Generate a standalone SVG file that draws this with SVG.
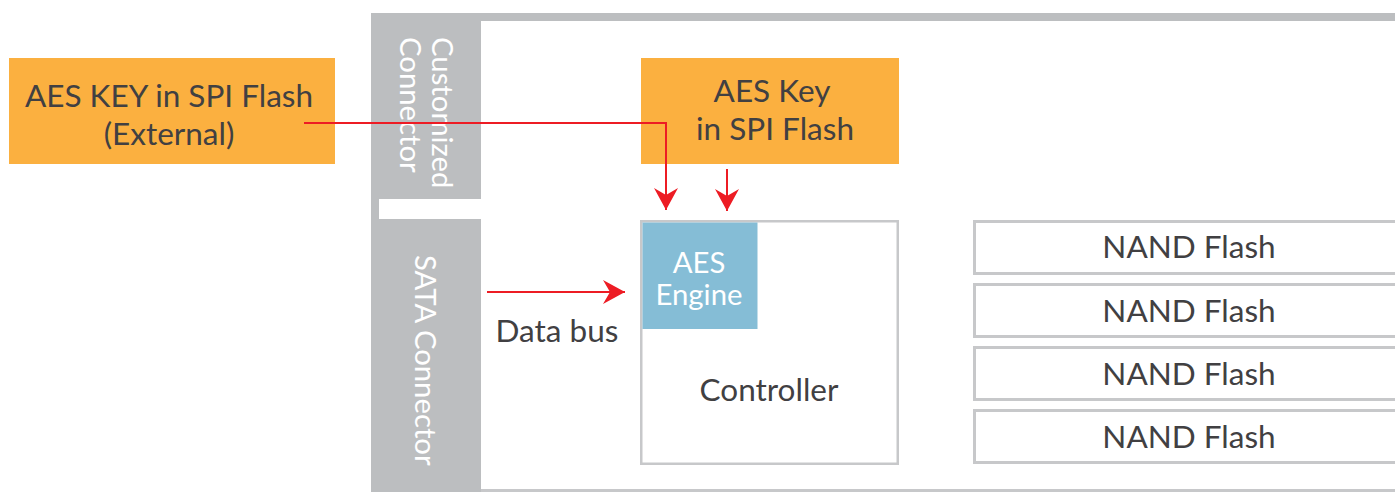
<svg xmlns="http://www.w3.org/2000/svg" width="1395" height="492" viewBox="0 0 1395 492">
  <style>
    .frame { fill: #bcbec0; }
    .key { fill: #fbb040; }
    .box { fill: #ffffff; stroke: #c7c8ca; stroke-width: 3; }
    .dark { font-family: Lato, "Liberation Sans", sans-serif; font-size: 31.5px; fill: #414042; text-anchor: middle; }
    .white { font-family: Lato, "Liberation Sans", sans-serif; font-size: 29.3px; fill: #ffffff; }
    .wire { fill: none; stroke: #ed1c24; stroke-width: 2; }
  </style>
  <defs>
    <marker id="arrow" viewBox="-23 -13 24 26" refX="0" refY="0" markerWidth="24" markerHeight="26" markerUnits="userSpaceOnUse" orient="auto">
      <path d="M0,0 L-22,-12 L-15,0 L-22,12 Z" fill="#ed1c24"/>
    </marker>
  </defs>
  <rect width="1395" height="492" fill="#ffffff"/>

  <g id="enclosure">
    <rect class="frame" x="371" y="13" width="1024" height="8"/>
    <rect class="frame" x="371" y="13" width="8" height="479"/>
    <rect x="371" y="489" width="1024" height="3" fill="#c7c8ca"/>
  </g>

  <g id="customized-connector">
    <rect class="frame" x="371" y="13" width="110" height="186"/>
    <text class="white" transform="translate(432,37) rotate(90)">Customized</text>
    <text class="white" transform="translate(400,37) rotate(90)">Connector</text>
  </g>

  <g id="sata-connector">
    <rect class="frame" x="371" y="219" width="110" height="273"/>
    <text class="white" transform="translate(415,255) rotate(90)">SATA Connector</text>
  </g>

  <g id="external-key">
    <rect class="key" x="9" y="58" width="326" height="106"/>
    <text class="dark" x="169" y="107">AES KEY in SPI Flash</text>
    <text class="dark" x="169" y="145">(External)</text>
  </g>

  <g id="internal-key">
    <rect class="key" x="641" y="58" width="258" height="106"/>
    <text class="dark" x="772" y="102">AES Key</text>
    <text class="dark" x="775" y="140">in SPI Flash</text>
  </g>

  <g id="controller">
    <rect x="641.25" y="221.25" width="256.5" height="242.5" fill="#ffffff" stroke="#c7c8ca" stroke-width="2.5"/>
    <text class="dark" x="769" y="401" font-size="34">Controller</text>
  </g>

  <g id="aes-engine">
    <rect x="642.5" y="222.5" width="115" height="106.5" fill="#85bdd6"/>
    <text class="white" x="699" y="273" font-size="26.5" text-anchor="middle">AES</text>
    <text class="white" x="699" y="305" font-size="26.5" text-anchor="middle">Engine</text>
  </g>

  <g id="nand-1">
    <rect class="box" x="974.5" y="221.5" width="440" height="52"/>
    <text class="dark" x="1189" y="258">NAND Flash</text>
  </g>
  <g id="nand-2">
    <rect class="box" x="974.5" y="284.5" width="440" height="52"/>
    <text class="dark" x="1189" y="322">NAND Flash</text>
  </g>
  <g id="nand-3">
    <rect class="box" x="974.5" y="347.5" width="440" height="52"/>
    <text class="dark" x="1189" y="385">NAND Flash</text>
  </g>
  <g id="nand-4">
    <rect class="box" x="974.5" y="410.5" width="440" height="52"/>
    <text class="dark" x="1189" y="448">NAND Flash</text>
  </g>

  <g id="connectors">
    <polyline class="wire" points="304,123 666,123 666,210" marker-end="url(#arrow)"/>
    <line class="wire" x1="727" y1="169" x2="727" y2="211" marker-end="url(#arrow)"/>
    <line class="wire" x1="487" y1="292" x2="625" y2="292" marker-end="url(#arrow)"/>
    <text class="dark" x="557" y="342">Data bus</text>
  </g>
</svg>
